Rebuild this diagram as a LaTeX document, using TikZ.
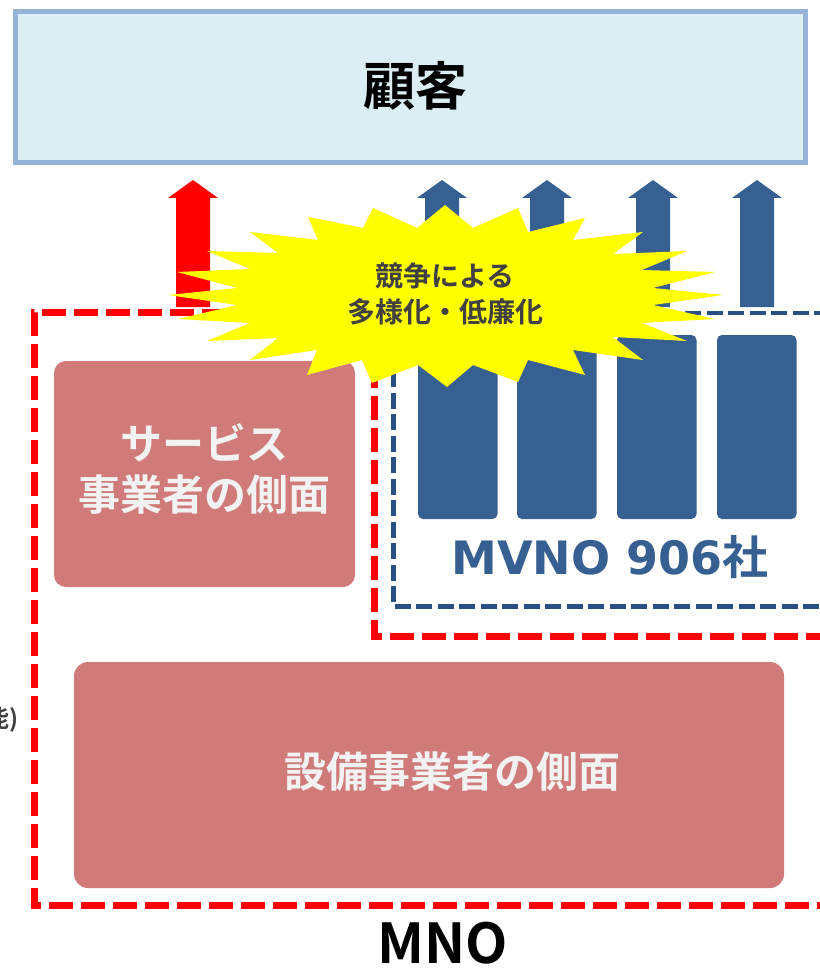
\documentclass[tikz,border=0pt]{standalone}
\usepackage{fontspec}
\newfontfamily\jp{Noto Sans CJK JP}[BoldFont={Noto Sans CJK JP Bold}]
\newfontfamily\dvs{DejaVu Sans}
\definecolor{custfill}{RGB}{219,238,244}
\definecolor{custdraw}{RGB}{149,179,215}
\definecolor{rose}{RGB}{208,123,121}
\definecolor{rosetext}{RGB}{242,242,242}
\definecolor{mblue}{RGB}{55,96,146}
\definecolor{dblue}{RGB}{40,80,132}
\definecolor{burst}{RGB}{255,255,0}
\definecolor{dgray}{RGB}{64,64,64}
\tikzset{
  rosebox/.style={fill=rose, draw=none, inner sep=0pt},
  barbox/.style={fill=mblue, draw=none, rounded corners=5pt},
  reddash/.style={draw=red, line width=7pt, dash pattern=on 24pt off 8pt},
  bluedash/.style={draw=dblue, line width=4.5pt, dash pattern=on 16pt off 5.5pt},
  rosefont/.style={text=rosetext, font=\jp\bfseries\fontsize{42}{51}\selectfont, align=center},
}
\newcommand\myuparrow[2]{%
  \fill[#2] (#1-17,307) -- (#1-17,198) -- (#1-25,198) -- (#1,180) -- (#1+25,198) -- (#1+17,198) -- (#1+17,307) -- cycle;}
\begin{document}
\begin{tikzpicture}[x=1pt,y=-1pt]
\useasboundingbox (0,0) rectangle (819,968);
% customer box
\node[draw=custdraw, fill=custfill, line width=4.5pt, minimum width=790pt, minimum height=151pt, inner sep=0pt] (cust) at (410.5,87) {};
\node[font=\jp\bfseries\fontsize{52}{60}\selectfont, text=black] (custtext) at (415,86) {顧客};
% arrows
\myuparrow{193}{red}
\foreach \cx in {442,547,653,757} {\myuparrow{\cx}{mblue}}
% MNO dashed outline
\coordinate (r1) at (830,636);
\coordinate (r2) at (374.5,636);
\coordinate (r3) at (374.5,312);
\coordinate (r4) at (34,312);
\coordinate (r5) at (34,905);
\coordinate (r6) at (830,905);
\draw[reddash] (r1) -- (r2) -- (r3) -- (r4) -- (r5) -- (r6);
% MVNO dashed outline
\coordinate (b1) at (830,313);
\coordinate (b2) at (393.5,313);
\coordinate (b3) at (393.5,606.5);
\coordinate (b4) at (830,606.5);
\draw[bluedash] (b1) -- (b2) -- (b3) -- (b4);
% rose boxes
\node[rosebox, rounded corners=12pt, minimum width=301pt, minimum height=226pt] (svc) at (204.5,474) {};
\node[rosefont] (svctext) at (204,468.5) {サービス\\事業者の側面};
\node[rosebox, rounded corners=14pt, minimum width=710pt, minimum height=226pt] (fac) at (429,775) {};
\node[rosefont] (factext) at (452,772) {設備事業者の側面};
% MVNO bars
\foreach \bx in {418,517,617,717} {\fill[mblue, rounded corners=5pt] (\bx,335) rectangle (\bx+79.5,519);}
\node[text=mblue, inner sep=0pt] (mvno) at (610,557) {\dvs\bfseries\fontsize{46}{50}\selectfont MVNO 906\jp\bfseries 社};
% burst
\fill[burst] (445,205) -- (473,228) -- (518,208) -- (528,232) -- (585,218) -- (573,240) -- (643,232) -- (613,254)
  -- (687,251) -- (642,270) -- (715,272) -- (653,288) -- (723,295) -- (653,305) -- (715,319) -- (642,323)
  -- (687,341) -- (613,337) -- (643,360) -- (573,350) -- (585,375) -- (528,360) -- (518,382) -- (473,365)
  -- (447,387) -- (418,365) -- (372,383) -- (362,360) -- (307,375) -- (317,350) -- (250,360) -- (278,338)
  -- (207,341) -- (250,323) -- (178,319) -- (237,305) -- (168,295) -- (237,288) -- (177,272) -- (250,269)
  -- (207,251) -- (278,253) -- (250,232) -- (318,240) -- (308,217) -- (363,228) -- (373,208) -- (417,228) -- cycle;
\node[text=dgray, font=\jp\bfseries\fontsize{28}{36}\selectfont, align=center] (bursttext) at (445,294) {競争による\\多様化・低廉化};
% labels
\node[font=\jp\bfseries\fontsize{55}{60}\selectfont, text=black] (mno) at (443,943) {MNO};
\node[anchor=east, inner sep=0pt, text=dgray, font=\jp\bfseries\fontsize{24}{28}\selectfont] (lefttext) at (19,720) {能)};
\end{tikzpicture}
\end{document}
